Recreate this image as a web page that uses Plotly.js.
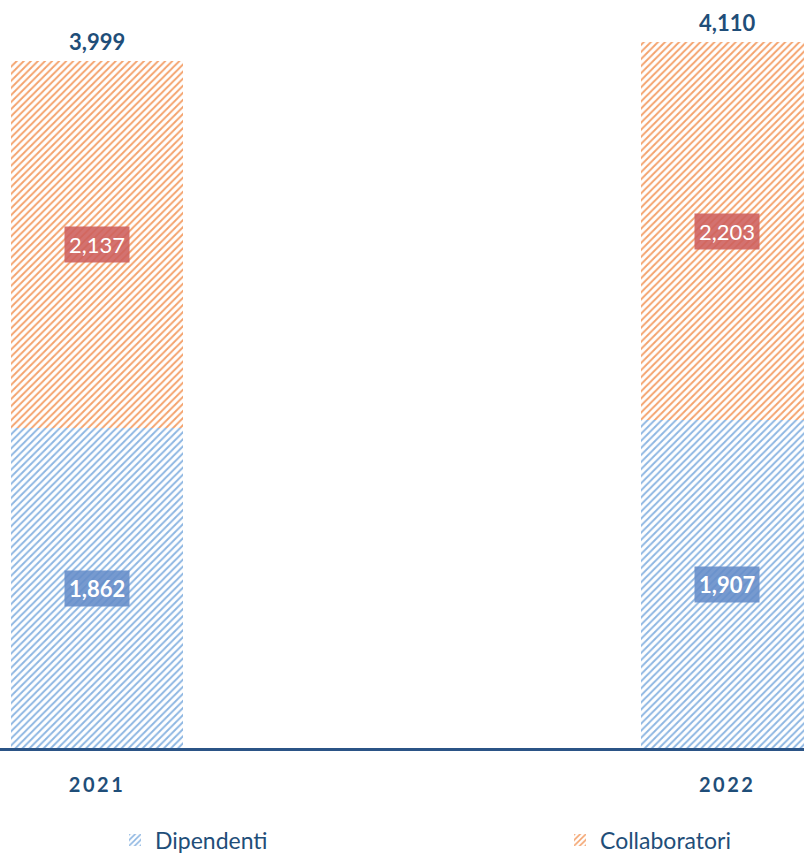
<!DOCTYPE html>
<html><head><meta charset="utf-8">
<script src="https://cdn.plot.ly/plotly-3.0.1.min.js"></script>
<style>html,body{margin:0;padding:0;background:#fff}#chart{width:804px;height:854px}
.xtick text{letter-spacing:2.5px}</style>
</head><body><div id="chart"></div>
<script>
const years = ['2021', '2022'];
const dipendenti = [1862, 1907];
const collaboratori = [2137, 2203];
const seriesNames = ['Dipendenti', 'Collaboratori'];

const xpos = [0, 1];
const totals = dipendenti.map((v, i) => v + collaboratori[i]);
const fmt = v => v.toLocaleString('en-US');
const dark = '#1F4E79';
const fam = 'Lato, "Open Sans", sans-serif';

const traces = [
  {type: 'bar', name: seriesNames[0], legend: 'legend', x: xpos, y: dipendenti, width: 0.272,
   marker: {color: 'rgba(0,0,0,0)', line: {width: 0},
            pattern: {shape: '/', fgcolor: '#8DB6E2', bgcolor: '#ffffff', size: 5, solidity: 0.38, fillmode: 'replace'}},
   hoverinfo: 'skip'},
  {type: 'bar', name: seriesNames[1], legend: 'legend2', x: xpos, y: collaboratori, width: 0.272,
   marker: {color: 'rgba(0,0,0,0)', line: {width: 0},
            pattern: {shape: '/', fgcolor: '#F4A26C', bgcolor: '#ffffff', size: 5, solidity: 0.38, fillmode: 'replace'}},
   hoverinfo: 'skip'}
];

const annotations = [];
xpos.forEach((x, i) => {
  annotations.push({x: x, y: dipendenti[i] / 2, text: '<b>' + fmt(dipendenti[i]) + '</b>', showarrow: false,
    font: {family: fam, size: 22, color: '#ffffff'},
    bgcolor: 'rgba(100,140,200,0.88)', borderpad: 4});
  annotations.push({x: x, y: dipendenti[i] + collaboratori[i] / 2, text: fmt(collaboratori[i]), showarrow: false,
    font: {family: fam, size: 22, color: '#ffffff'},
    bgcolor: 'rgba(205,95,92,0.88)', borderpad: 4});
  annotations.push({x: x, y: totals[i], text: '<b>' + fmt(totals[i]) + '</b>', showarrow: false,
    yanchor: 'bottom', yshift: 4,
    font: {family: fam, size: 22, color: dark}});
});

const legendBase = {orientation: 'h', yanchor: 'middle', xanchor: 'left', bgcolor: 'rgba(0,0,0,0)',
  font: {family: fam, size: 23, color: dark}, itemwidth: 30};

const layout = {
  width: 804, height: 854,
  margin: {l: 0, r: 0, t: 0, b: 106, autoexpand: false},
  paper_bgcolor: '#ffffff', plot_bgcolor: '#ffffff',
  barmode: 'stack',
  showlegend: true,
  legend: Object.assign({}, legendBase, {x: 115 / 804, y: -92 / 748}),
  legend2: Object.assign({}, legendBase, {x: 560 / 804, y: -92 / 748}),
  xaxis: {range: [-0.154, 1.122], tickvals: xpos, ticktext: years.map(y => '<b>' + y + '</b>'),
          showgrid: false, zeroline: false, showline: true, linecolor: '#2B5486', linewidth: 3,
          ticks: '', ticklabelstandoff: 17, automargin: false,
          tickfont: {family: fam, size: 20, color: dark}},
  yaxis: {range: [0, 4354], showgrid: false, zeroline: false, showticklabels: false, showline: false, automargin: false},
  annotations: annotations
};

Plotly.newPlot('chart', traces, layout, {displayModeBar: false, staticPlot: true});
</script></body></html>
